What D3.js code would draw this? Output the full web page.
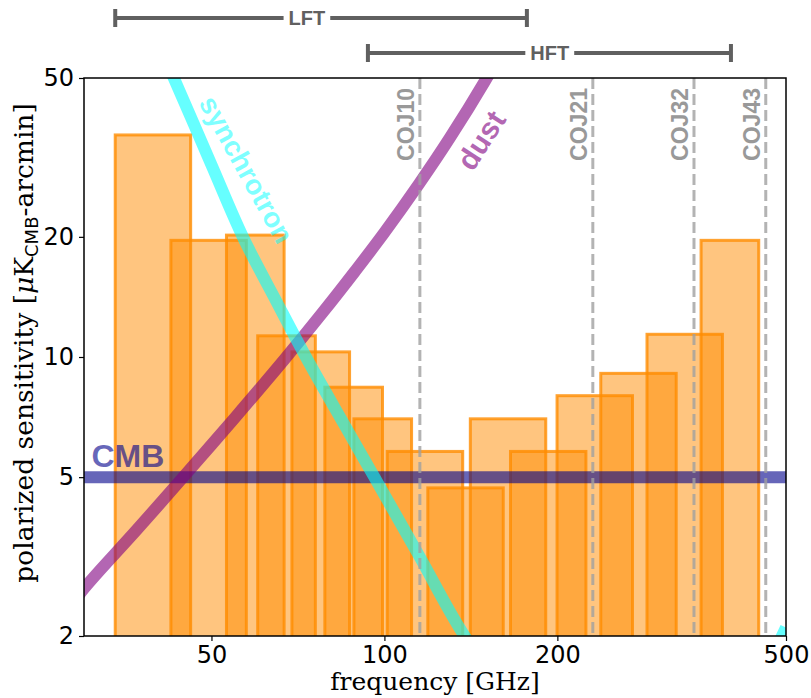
<!DOCTYPE html>
<html><head><meta charset="utf-8">
<script src="https://cdn.jsdelivr.net/npm/d3@7"></script>
<style>body{margin:0;background:#fff}</style>
</head><body>
<svg id="c" width="811" height="698"></svg>
<script>
// ---- data ----
const bandFreqs     = [40, 50, 60, 68, 78, 89, 100, 119, 140, 166, 195, 235, 280, 337, 402];
const bandFracWidth = [0.3, 0.3, 0.23, 0.23, 0.23, 0.23, 0.23, 0.3, 0.3, 0.3, 0.3, 0.3, 0.3, 0.3, 0.23];
const bandSens      = [36, 19.6, 20.2, 11.3, 10.3, 8.4, 7.0, 5.8, 4.7, 7.0, 5.8, 8.0, 9.1, 11.4, 19.6];
const cmbLevel = 5;
const synchFreq = [38, 43, 50, 56.7, 65, 73, 85, 96.3, 115, 137, 160, 200, 300, 400, 450, 500];
const synchVal  = [74, 50, 30.3, 20, 13.7, 10, 6.8, 4.97, 3.17, 2.03, 1.5, 1.05, 0.85, 1.19, 1.55, 2.1];
const dustFreq = [28, 30, 37, 44.1, 55, 67.1, 78, 88.9, 100, 114.8, 130, 149.6, 170];
const dustVal  = [2.3, 2.63, 3.68, 4.9, 7.06, 9.89, 12.9, 16.4, 20.5, 27.1, 35.4, 49.1, 68];
const coFreqs  = [115.27, 230.54, 345.8, 461.04];
const coLabels = ["COJ10", "COJ21", "COJ32", "COJ43"];
const xTicks = [50, 100, 200, 500];
const yTicks = [2, 5, 10, 20, 50];
const instNames = ["LFT", "HFT"];
const instLo = [34, 93.6];
const instHi = [177, 401];
const instLabelFreq = [73.3, 194];
const curveLabels = ["CMB", "synchrotron", "dust"];
const curveLabelFreq = [30.9, 55.6, 152.6];
const curveLabelVal  = [5.3, 28.7, 33.8];

// ---- layout ----
const L = 84, R = 786, T = 78, B = 636;
const svg = d3.select("#c");
const x = d3.scaleLog().domain([30, 500]).range([L, R]);
const y = d3.scaleLog().domain([2, 50]).range([B, T]);

svg.append("defs").append("clipPath").attr("id", "clip")
  .append("rect").attr("x", L).attr("y", T).attr("width", R - L).attr("height", B - T);
const plot = svg.append("g").attr("clip-path", "url(#clip)");

// bars
plot.selectAll("rect.band").data(bandFreqs).join("rect").attr("class", "band")
  .attr("x", (f, i) => x(f * (1 - bandFracWidth[i] / 2)))
  .attr("width", (f, i) => x(f * (1 + bandFracWidth[i] / 2)) - x(f * (1 - bandFracWidth[i] / 2)))
  .attr("y", (f, i) => y(bandSens[i]))
  .attr("height", (f, i) => B + 5 - y(bandSens[i]))
  .attr("fill", "rgba(255,140,0,0.5)")
  .attr("stroke", "rgba(255,140,0,0.8)")
  .attr("stroke-width", 3);

// CMB line
plot.append("line").attr("x1", L).attr("x2", R).attr("y1", y(cmbLevel)).attr("y2", y(cmbLevel))
  .attr("stroke", "darkblue").attr("stroke-opacity", 0.6).attr("stroke-width", 12);

const line = d3.line().x(d => x(d[0])).y(d => y(d[1])).curve(d3.curveCatmullRom.alpha(0.5));
plot.append("path").datum(dustFreq.map((f, i) => [f, dustVal[i]])).attr("d", line)
  .attr("fill", "none").attr("stroke", "purple").attr("stroke-opacity", 0.6).attr("stroke-width", 12);
plot.append("path").datum(synchFreq.map((f, i) => [f, synchVal[i]])).attr("d", line)
  .attr("fill", "none").attr("stroke", "cyan").attr("stroke-opacity", 0.6).attr("stroke-width", 12);

// CO lines
plot.selectAll("line.co").data(coFreqs).join("line").attr("class", "co")
  .attr("x1", d => x(d)).attr("x2", d => x(d)).attr("y1", T).attr("y2", B)
  .attr("stroke", "#a0a0a0").attr("stroke-opacity", 0.8).attr("stroke-width", 3)
  .attr("stroke-dasharray", "11,5");
svg.selectAll("text.co").data(coFreqs).join("text").attr("class", "co")
  .attr("transform", d => `translate(${x(d) - 6},${T + 10}) rotate(-90)`)
  .attr("text-anchor", "end")
  .attr("font-family", "Liberation Sans, Arial, sans-serif").attr("font-weight", "bold")
  .attr("font-size", 23).attr("fill", "#999")
  .text((d, i) => coLabels[i]);

// curve labels
svg.append("text").attr("x", x(curveLabelFreq[0])).attr("y", y(curveLabelVal[0]))
  .attr("font-family", "Liberation Sans, Arial, sans-serif").attr("font-weight", "bold")
  .attr("font-size", 32).attr("fill", "darkblue").attr("fill-opacity", 0.6).text(curveLabels[0]);
svg.append("text")
  .attr("transform", `translate(${x(curveLabelFreq[1])},${y(curveLabelVal[1])}) rotate(61)`)
  .attr("text-anchor", "middle")
  .attr("font-family", "Liberation Sans, Arial, sans-serif").attr("font-weight", "bold")
  .attr("font-size", 28).attr("fill", "cyan").attr("fill-opacity", 0.5).text(curveLabels[1]);
svg.append("text")
  .attr("transform", `translate(${x(curveLabelFreq[2])},${y(curveLabelVal[2])}) rotate(-57)`)
  .attr("text-anchor", "middle")
  .attr("font-family", "Liberation Sans, Arial, sans-serif").attr("font-weight", "bold")
  .attr("font-size", 30).attr("fill", "purple").attr("fill-opacity", 0.6).text(curveLabels[2]);

// frame
svg.append("rect").attr("x", L).attr("y", T).attr("width", R - L).attr("height", B - T)
  .attr("fill", "none").attr("stroke", "#000").attr("stroke-width", 1.5);

// axes
const fmt = d3.format("d");
const ax = svg.append("g").attr("transform", `translate(0,${B})`)
  .call(d3.axisBottom(x).tickValues(xTicks).tickFormat(fmt).tickSize(5).tickPadding(5));
const ay = svg.append("g").attr("transform", `translate(${L},0)`)
  .call(d3.axisLeft(y).tickValues(yTicks).tickFormat(fmt).tickSize(5).tickPadding(5));
[ax, ay].forEach(g => {
  g.select(".domain").remove();
  g.selectAll("text").attr("font-family", "DejaVu Sans, sans-serif").attr("font-size", 24).attr("fill", "#000");
  g.selectAll("line").attr("stroke", "#000").attr("stroke-width", 1.2);
});

// axis titles
svg.append("text").attr("x", (L + R) / 2).attr("y", 690).attr("text-anchor", "middle")
  .attr("font-family", "DejaVu Serif, serif").attr("font-size", 25).text("frequency [GHz]");
const yl = svg.append("text").attr("transform", `translate(33,343) rotate(-90)`)
  .attr("text-anchor", "middle").attr("font-family", "DejaVu Serif, serif").attr("font-size", 26.5);
yl.append("tspan").text("polarized sensitivity [");
yl.append("tspan").attr("font-style", "italic").text("μ");
yl.append("tspan").text("K");
yl.append("tspan").attr("font-family", "DejaVu Sans, sans-serif").attr("font-size", 18).attr("dy", 5).text("CMB");
yl.append("tspan").attr("dy", -5).text("-arcmin]");

// instrument ranges
const instY = [18, 53];
instNames.forEach((nm, i) => {
  const g = svg.append("g");
  const cx = x(instLabelFreq[i]);
  const t = g.append("text").attr("x", cx).attr("y", instY[i]).attr("dy", "0.36em")
    .attr("text-anchor", "middle").attr("font-family", "Liberation Sans, Arial, sans-serif")
    .attr("font-weight", "bold").attr("font-size", 20).attr("fill", "#606060").text(nm);
  const w = t.node().getComputedTextLength();
  const x0 = x(instLo[i]), x1 = x(instHi[i]);
  const st = {stroke: "#606060", "stroke-width": 4};
  const seg = (a, b, c, d) => { const l = g.append("line").attr("x1", a).attr("x2", b).attr("y1", c).attr("y2", d); Object.entries(st).forEach(([k, v]) => l.attr(k, v)); };
  seg(x0, cx - w / 2 - 5, instY[i], instY[i]);
  seg(cx + w / 2 + 5, x1, instY[i], instY[i]);
  seg(x0, x0, instY[i] - 9, instY[i] + 9);
  seg(x1, x1, instY[i] - 9, instY[i] + 9);
});
</script>
</body></html>
